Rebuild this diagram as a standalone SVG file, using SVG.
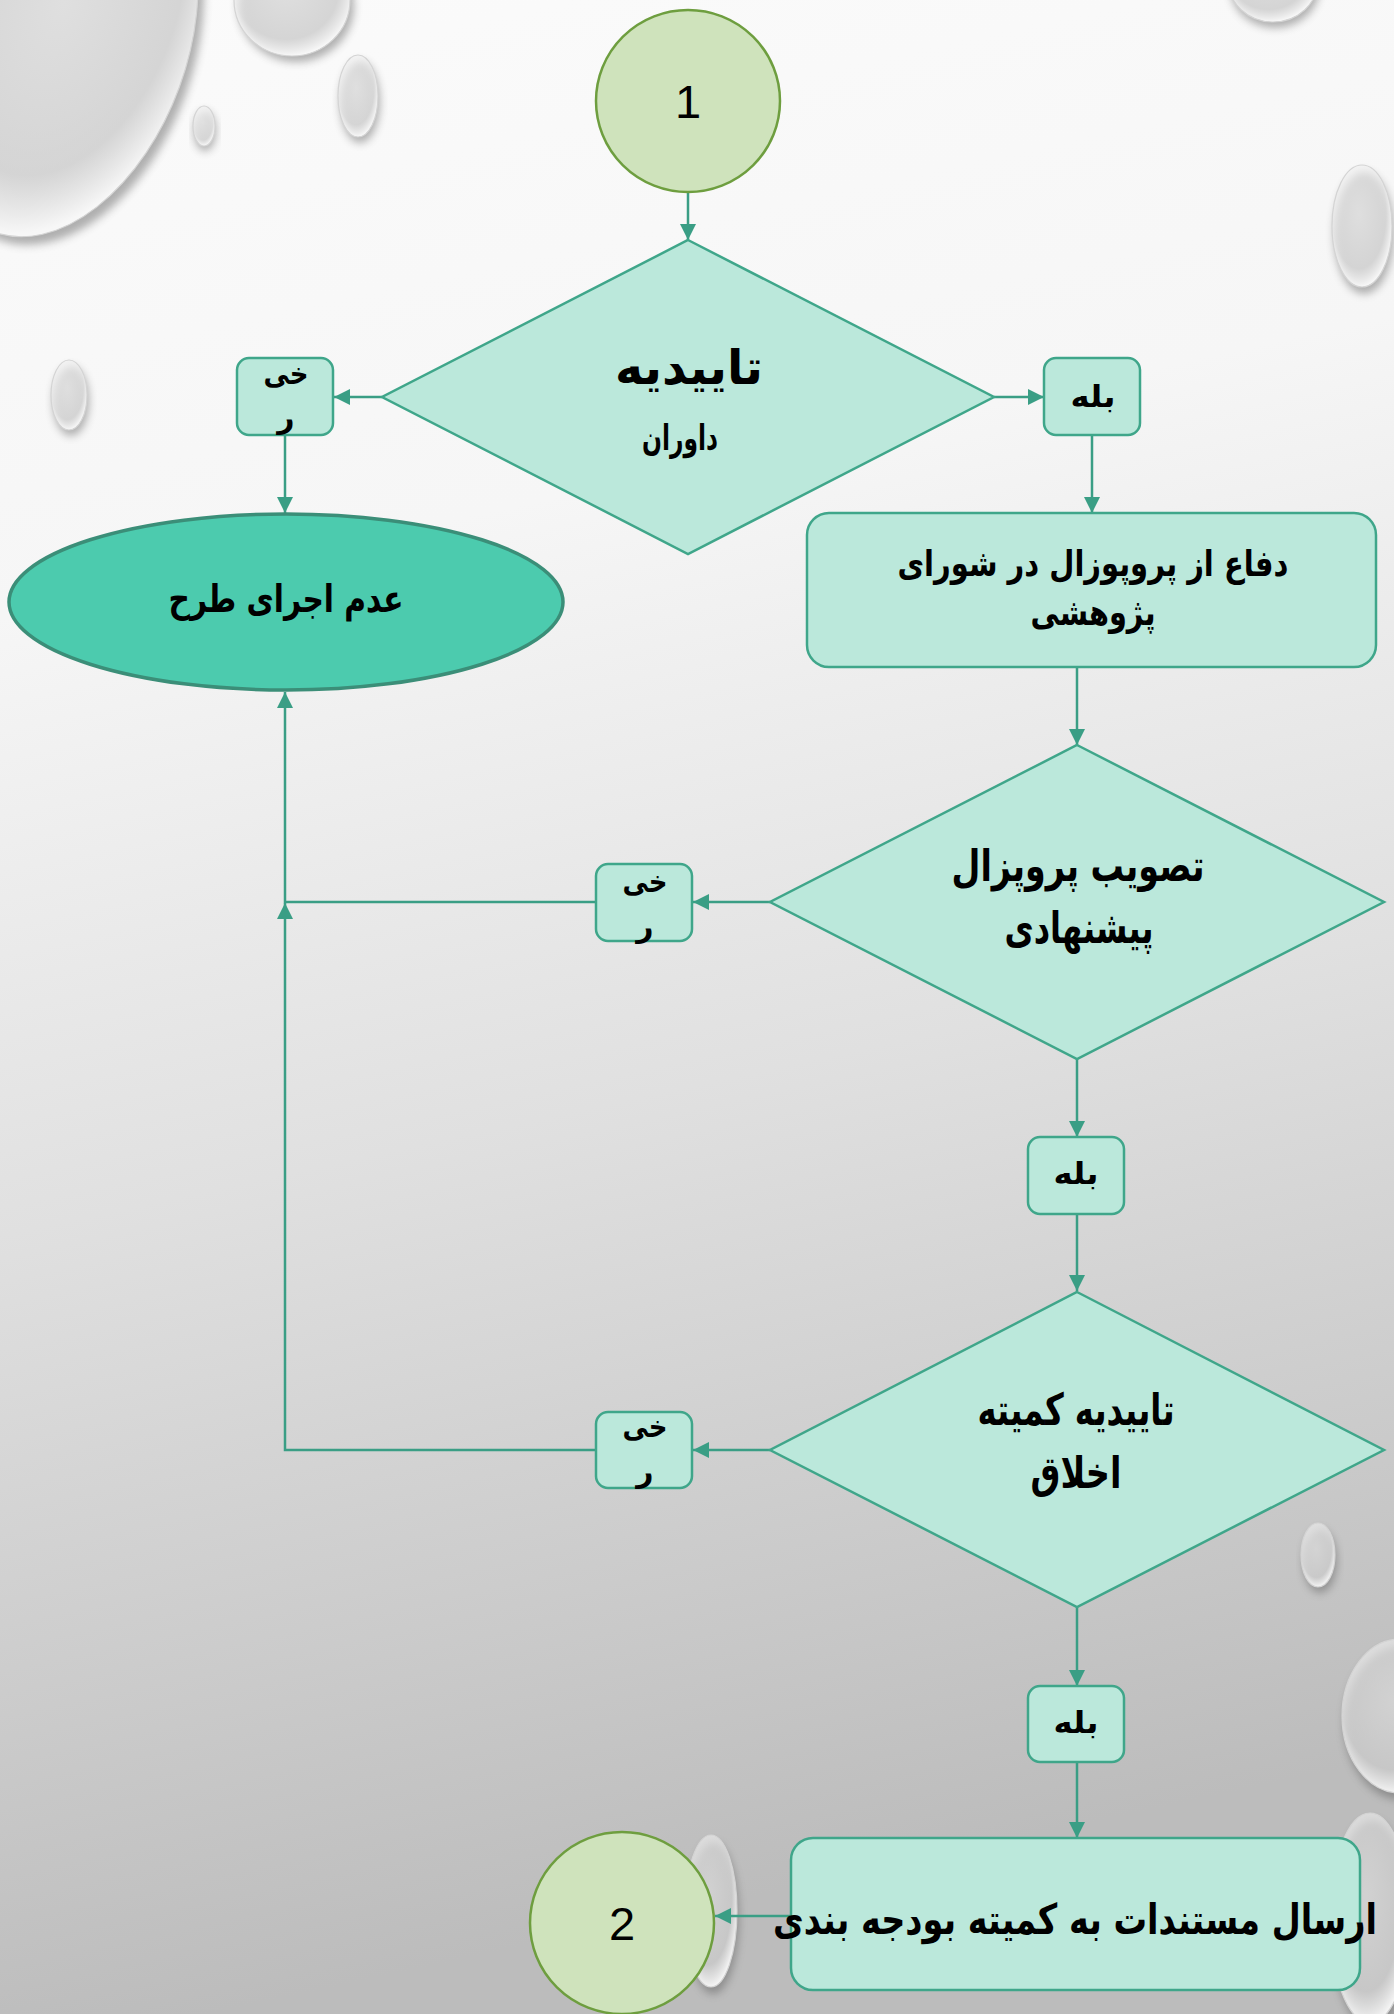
<svg xmlns="http://www.w3.org/2000/svg" width="1394" height="2014" viewBox="0 0 1394 2014">
<style>
.dia{fill:#BBE8DB;stroke:#3FA68A;stroke-width:2.5}
.box{fill:#BBE8DB;stroke:#3FA68A;stroke-width:2.5}
.term{fill:#CFE3BC;stroke:#6E9E3F;stroke-width:2.5}
.end{fill:#4CCBAE;stroke:#3B8E78;stroke-width:3.5}
.con{fill:none;stroke:#3A9E85;stroke-width:2.5}
.fa{font-family:"DejaVu Sans",sans-serif;font-weight:bold;fill:#000;text-anchor:middle}
.num{font-family:"Liberation Sans",Arial,sans-serif;fill:#000;text-anchor:middle;font-size:47px}
.drop{fill:url(#dropG);stroke:#d4d4d4;stroke-width:1.2}
.shadow{fill:#555;opacity:0.45;filter:url(#blur)}
</style>
<defs>
<linearGradient id="bg" x1="0" y1="0" x2="0.15" y2="1">
<stop offset="0" stop-color="#fbfbfb"/>
<stop offset="0.3" stop-color="#f6f6f6"/>
<stop offset="0.6" stop-color="#e0e0e0"/>
<stop offset="1" stop-color="#bcbcbc"/>
</linearGradient>
<radialGradient id="dropG" cx="0.45" cy="0.4" r="0.6">
<stop offset="0" stop-color="#ffffff" stop-opacity="0.6"/>
<stop offset="0.75" stop-color="#eeeeee" stop-opacity="0.6"/>
<stop offset="1" stop-color="#ffffff" stop-opacity="0.9"/>
</radialGradient>
<filter id="blur" x="-20%" y="-20%" width="140%" height="140%"><feGaussianBlur stdDeviation="4"/></filter>
<marker id="arr" markerUnits="userSpaceOnUse" markerWidth="18" markerHeight="16" refX="16" refY="8" orient="auto">
<path d="M0,0 L16,8 L0,16 z" fill="#3A9E85"/>
</marker>
</defs>
<rect x="0" y="0" width="1394" height="2014" fill="url(#bg)"/>
<g id="drops">
<ellipse class="shadow" cx="68" cy="52" rx="125" ry="200" transform="rotate(20 68 52)"/>
<ellipse class="drop" cx="62" cy="44" rx="125" ry="200" transform="rotate(20 62 44)"/>
<ellipse class="shadow" cx="296" cy="6" rx="58" ry="56"/>
<ellipse class="drop" cx="292" cy="0" rx="58" ry="56"/>
<ellipse class="shadow" cx="360" cy="102" rx="20" ry="41"/>
<ellipse class="drop" cx="358" cy="96" rx="20" ry="41"/>
<ellipse class="shadow" cx="205" cy="131" rx="11" ry="20"/>
<ellipse class="drop" cx="204" cy="126" rx="11" ry="20"/>
<ellipse class="shadow" cx="71" cy="401" rx="18" ry="35"/>
<ellipse class="drop" cx="69" cy="395" rx="18" ry="35"/>
<ellipse class="shadow" cx="1275" cy="-14" rx="45" ry="42"/>
<ellipse class="drop" cx="1273" cy="-20" rx="45" ry="42"/>
<ellipse class="shadow" cx="1364" cy="233" rx="30" ry="61"/>
<ellipse class="drop" cx="1362" cy="226" rx="30" ry="61"/>
<ellipse class="shadow" cx="1320" cy="1561" rx="17" ry="32"/>
<ellipse class="drop" cx="1318" cy="1555" rx="17" ry="32"/>
<ellipse class="shadow" cx="1402" cy="1723" rx="58" ry="77"/>
<ellipse class="drop" cx="1400" cy="1716" rx="58" ry="77"/>
<ellipse class="shadow" cx="1372" cy="1925" rx="40" ry="105"/>
<ellipse class="drop" cx="1370" cy="1918" rx="40" ry="105"/>
<ellipse class="shadow" cx="713" cy="1918" rx="26" ry="76"/>
<ellipse class="drop" cx="711" cy="1911" rx="26" ry="76"/>
</g>
<g id="connectors">
<line class="con" x1="688" y1="192" x2="688" y2="240" marker-end="url(#arr)"/>
<line class="con" x1="382" y1="397" x2="334" y2="397" marker-end="url(#arr)"/>
<line class="con" x1="994" y1="397" x2="1044" y2="397" marker-end="url(#arr)"/>
<line class="con" x1="285" y1="435" x2="285" y2="513" marker-end="url(#arr)"/>
<line class="con" x1="1092" y1="435" x2="1092" y2="513" marker-end="url(#arr)"/>
<line class="con" x1="1077" y1="667" x2="1077" y2="745" marker-end="url(#arr)"/>
<line class="con" x1="770" y1="902" x2="693" y2="902" marker-end="url(#arr)"/>
<path class="con" d="M596,902 H285 V692" marker-end="url(#arr)"/>
<line class="con" x1="1077" y1="1059" x2="1077" y2="1137" marker-end="url(#arr)"/>
<line class="con" x1="1077" y1="1214" x2="1077" y2="1291" marker-end="url(#arr)"/>
<line class="con" x1="770" y1="1450" x2="693" y2="1450" marker-end="url(#arr)"/>
<path class="con" d="M596,1450 H285 V903" marker-end="url(#arr)"/>
<line class="con" x1="1077" y1="1607" x2="1077" y2="1686" marker-end="url(#arr)"/>
<line class="con" x1="1077" y1="1762" x2="1077" y2="1838" marker-end="url(#arr)"/>
<line class="con" x1="791" y1="1916" x2="715" y2="1916" marker-end="url(#arr)"/>
</g>
<g id="start1">
<ellipse class="term" cx="688" cy="101" rx="92" ry="91"/>
<text class="num" x="688" y="118">1</text>
</g>
<g id="decision1">
<polygon class="dia" points="688,240 994,397 688,554 382,397"/>
<text class="fa" x="689" y="384" font-size="48" textLength="148" lengthAdjust="spacingAndGlyphs">تاییدیه</text>
<text class="fa" x="680" y="450" font-size="35" textLength="76" lengthAdjust="spacingAndGlyphs">داوران</text>
</g>
<g id="no1">
<rect class="box" x="237" y="358" width="96" height="77" rx="12"/>
<text class="fa" x="286" y="384" font-size="30" textLength="45" lengthAdjust="spacingAndGlyphs">خی</text>
<text class="fa" x="286" y="428" font-size="30">ر</text>
</g>
<g id="yes1">
<rect class="box" x="1044" y="358" width="96" height="77" rx="12"/>
<text class="fa" x="1093" y="407" font-size="30" textLength="45" lengthAdjust="spacingAndGlyphs">بله</text>
</g>
<g id="reject">
<ellipse class="end" cx="286" cy="602" rx="277" ry="88"/>
<text class="fa" x="286" y="612" font-size="38" textLength="235" lengthAdjust="spacingAndGlyphs">عدم اجرای طرح</text>
</g>
<g id="defense">
<rect class="box" x="807" y="513" width="569" height="154" rx="22"/>
<text class="fa" x="1093" y="576" font-size="36" textLength="391" lengthAdjust="spacingAndGlyphs">دفاع از پروپوزال در شورای</text>
<text class="fa" x="1093" y="625" font-size="36" textLength="125" lengthAdjust="spacingAndGlyphs">پژوهشی</text>
</g>
<g id="decision2">
<polygon class="dia" points="1077,745 1384,902 1077,1059 770,902"/>
<text class="fa" x="1078" y="881" font-size="44" textLength="253" lengthAdjust="spacingAndGlyphs">تصویب پروپزال</text>
<text class="fa" x="1079" y="943" font-size="44" textLength="149" lengthAdjust="spacingAndGlyphs">پیشنهادی</text>
</g>
<g id="no2">
<rect class="box" x="596" y="864" width="96" height="77" rx="12"/>
<text class="fa" x="645" y="892" font-size="30" textLength="45" lengthAdjust="spacingAndGlyphs">خی</text>
<text class="fa" x="645" y="937" font-size="30">ر</text>
</g>
<g id="yes2">
<rect class="box" x="1028" y="1137" width="96" height="77" rx="12"/>
<text class="fa" x="1076" y="1184" font-size="30" textLength="45" lengthAdjust="spacingAndGlyphs">بله</text>
</g>
<g id="decision3">
<polygon class="dia" points="1077,1292 1384,1450 1077,1607 770,1450"/>
<text class="fa" x="1076" y="1425" font-size="44" textLength="197" lengthAdjust="spacingAndGlyphs">تاییدیه کمیته</text>
<text class="fa" x="1076" y="1488" font-size="44" textLength="91" lengthAdjust="spacingAndGlyphs">اخلاق</text>
</g>
<g id="no3">
<rect class="box" x="596" y="1412" width="96" height="76" rx="12"/>
<text class="fa" x="645" y="1437" font-size="30" textLength="45" lengthAdjust="spacingAndGlyphs">خی</text>
<text class="fa" x="645" y="1482" font-size="30">ر</text>
</g>
<g id="yes3">
<rect class="box" x="1028" y="1686" width="96" height="76" rx="12"/>
<text class="fa" x="1076" y="1733" font-size="30" textLength="45" lengthAdjust="spacingAndGlyphs">بله</text>
</g>
<g id="send">
<rect class="box" x="791" y="1838" width="569" height="152" rx="22"/>
<text class="fa" x="1075" y="1934" font-size="42" textLength="604" lengthAdjust="spacingAndGlyphs">ارسال مستندات به کمیته بودجه بندی</text>
</g>
<g id="end2">
<ellipse class="term" cx="622" cy="1923" rx="92" ry="91"/>
<text class="num" x="622" y="1940">2</text>
</g>
</svg>
